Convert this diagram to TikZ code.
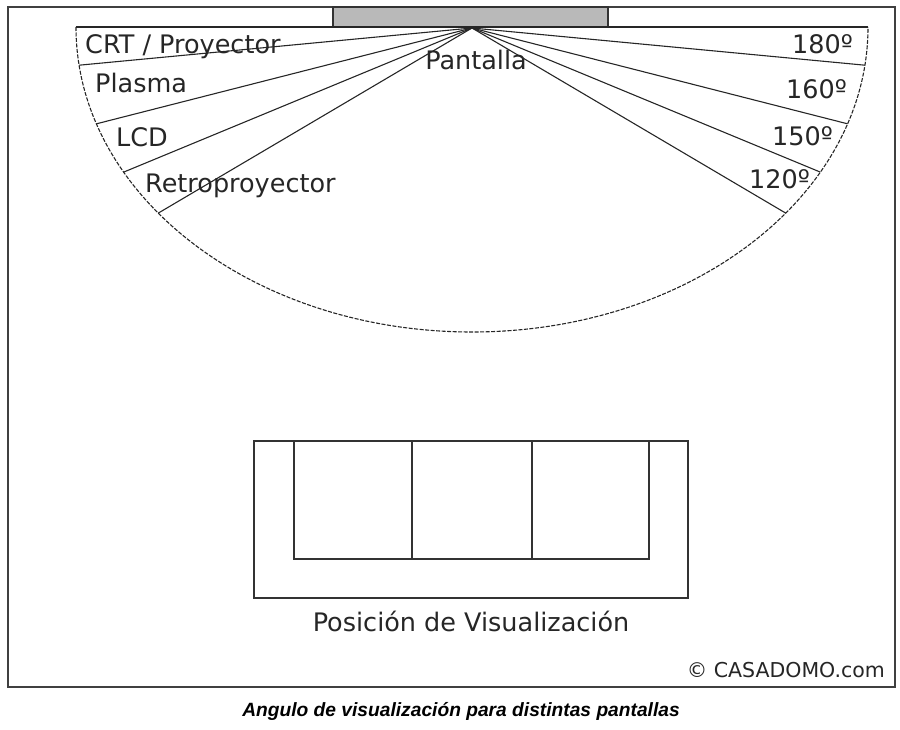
\documentclass[tikz,border=0pt]{standalone}
\usepackage{fontspec}
\setmainfont{DejaVu Sans}
\newfontfamily\capfont{Liberation Sans}
\begin{document}
\begin{tikzpicture}[x=1pt,y=-1pt,
  lbl/.style={inner sep=0pt, text=black!85, font=\fontsize{25.5}{30}\selectfont},
  ray/.style={draw=black!85, line width=1.1pt},
  sofa/.style={draw=black!80, line width=1.4pt}]
\useasboundingbox (0,0) rectangle (900,730);
% frame
\draw[draw=black!75, line width=1.8pt] (8,7) rectangle (895,687);
% screen
\draw[fill=gray!55, draw=black!80, line width=1.2pt] (333,7) rectangle (608,27);
% base line
\coordinate (A) at (472,28);
\coordinate (E0) at (76,27);
\coordinate (F0) at (868,27);
\draw[ray] (E0) -- (F0);
% dashed elliptic arc
\draw[draw=black!85, line width=1.1pt, dash pattern=on 4pt off 1.5pt] (E0) arc[start angle=180, end angle=0, x radius=396, y radius=305];
% ray end points
\coordinate (L1) at (79.1,65.2);
\coordinate (L2) at (96.5,123.8);
\coordinate (L3) at (123.7,172.1);
\coordinate (L4) at (158.3,213.1);
\coordinate (R1) at (864.9,65.2);
\coordinate (R2) at (847.5,123.8);
\coordinate (R3) at (820.3,172.1);
\coordinate (R4) at (785.7,213.1);
\foreach \p in {L1,L2,L3,L4,R1,R2,R3,R4} \draw[ray] (A) -- (\p);
% labels
\node[lbl, anchor=base west] (crt) at (85,54) {CRT / Proyector};
\node[lbl, anchor=base west] (pla) at (95,93) {Plasma};
\node[lbl, anchor=base west] (lcd) at (116,147) {LCD};
\node[lbl, anchor=base west] (ret) at (145,193) {Retroproyector};
\node[lbl, anchor=base] (pan) at (476,70) {Pantalla};
\node[lbl, anchor=base east] (a180) at (853,54) {180º};
\node[lbl, anchor=base east] (a160) at (847,99) {160º};
\node[lbl, anchor=base east] (a150) at (833,146) {150º};
\node[lbl, anchor=base east] (a120) at (810,189) {120º};
% sofa
\draw[sofa] (254,441) rectangle (688,598);
\draw[sofa] (294,441) -- (294,559) -- (649,559) -- (649,441);
\draw[sofa] (412,441) -- (412,559);
\draw[sofa] (532,441) -- (532,559);
\node[lbl, anchor=base] (pos) at (471,631) {Posición de Visualización};
\node[lbl, anchor=base east, font=\fontsize{20.5}{24}\selectfont] (copy) at (885,677) {© CASADOMO.com};
\node[inner sep=0pt, anchor=base, text=black, font=\capfont\bfseries\itshape\fontsize{19.2}{22}\selectfont] (cap) at (461,716) {Angulo de visualización para distintas pantallas};
\end{tikzpicture}
\end{document}
